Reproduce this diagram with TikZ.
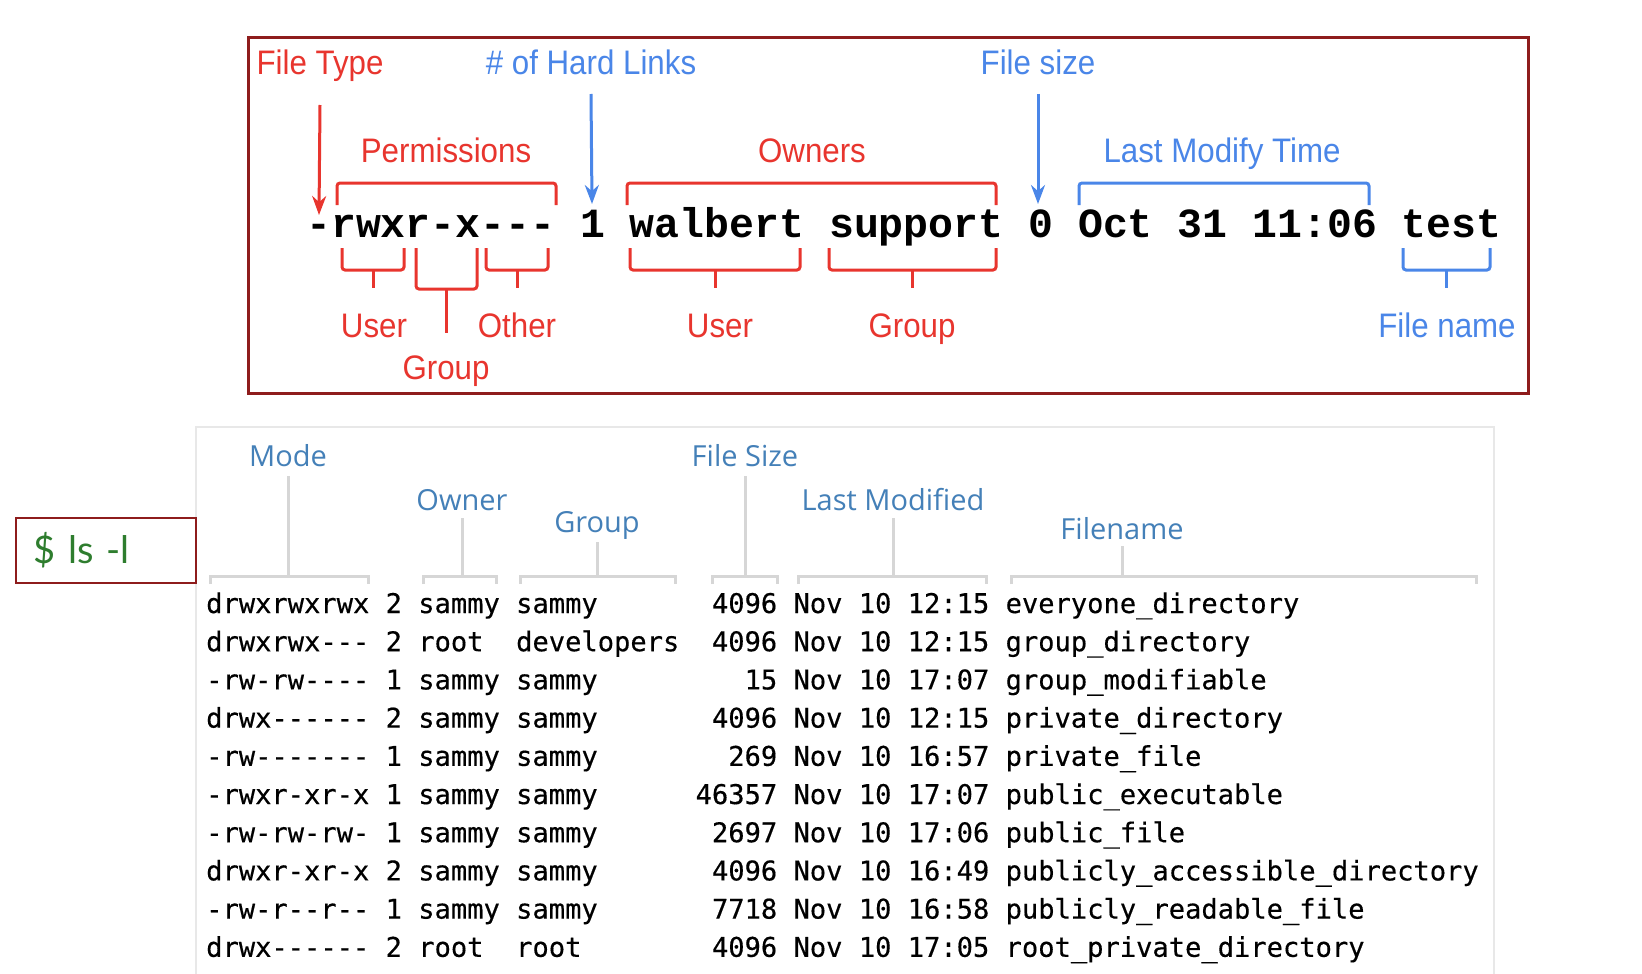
\documentclass[tikz,border=0pt]{standalone}
\usepackage{fontspec}
\setmainfont{Liberation Sans}
\newfontfamily\annfont{Liberation Sans}[FakeStretch=0.92]
\newfontfamily\hdrfont{Open Sans}
\newfontfamily\cmdfont{Liberation Mono}[Ligatures=TeXOff]
\newfontfamily\lsfont{DejaVu Sans Mono}[Ligatures=TeXOff, FakeBold=0.4]
\newfontfamily\promptfont{Lato}
\usepackage{xcolor}
\usetikzlibrary{arrows.meta, positioning}

\definecolor{annred}{HTML}{E8352E}
\definecolor{annblue}{HTML}{4A86E8}
\definecolor{boxred}{HTML}{8E1C1C}
\definecolor{hdrblue}{HTML}{4480B8}
\definecolor{guidegray}{HTML}{D6D6D6}
\definecolor{framegray}{HTML}{E8E8E8}
\definecolor{promptgreen}{HTML}{2E7D2E}

\begin{document}
\begin{tikzpicture}[
  x=1pt, y=-1pt,
  redlbl/.style  = {font=\annfont\fontsize{34}{40}\selectfont, text=annred, inner sep=0pt, anchor=base},
  bluelbl/.style = {redlbl, text=annblue},
  redbr/.style   = {draw=annred, line width=3pt, rounded corners=3pt},
  bluebr/.style  = {redbr, draw=annblue},
  redarr/.style  = {-{Stealth[length=19pt,width=14pt]}, draw=annred, line width=3pt},
  bluearr/.style = {redarr, draw=annblue},
  hdr/.style     = {font=\hdrfont\fontsize{29}{34}\selectfont, text=hdrblue, inner sep=0pt, anchor=base},
  guide/.style   = {draw=guidegray, line width=3pt},
  lsrow/.style   = {font=\lsfont\fontsize{27.1}{30}\selectfont, text=black, inner sep=0pt, anchor=base west}
]
\fill[white] (0,0) rectangle (1642,974);
\useasboundingbox (0,0) rectangle (1642,974);

% annotated listing
\draw[draw=boxred, line width=3pt] (248,38) rectangle (1528,393);
\node[font=\cmdfont\bfseries\fontsize{41.5}{46}\selectfont, inner sep=0pt, anchor=base west]
  (lsline) at (306,237) {-rwxr-x---~1~walbert~support~0~Oct~31~11:06~test};

\node[redlbl]  (ftype)  at (320,75)  {File Type};
\node[bluelbl] (hlinks) at (591,75)  {\# of Hard Links};
\node[bluelbl] (fsize)  at (1038,75) {File size};
\node[redlbl]  (perms)  at (446,162) {Permissions};
\node[redlbl]  (owners) at (812,162) {Owners};
\node[bluelbl] (lmtime) at (1222,162) {Last Modify Time};

\coordinate (typetip)  at (319,215);
\coordinate (linktip)  at (592,204);
\coordinate (sizetip)  at (1038,204);
\draw[redarr]  ([yshift=-30pt]ftype.base)  -- (typetip);
\draw[bluearr] ([yshift=-19pt]hlinks.base) -- (linktip);
\draw[bluearr] ([yshift=-19pt]fsize.base)  -- (sizetip);

% brackets over the fields
\draw[redbr]  (337,205) -- (337,183) -- (556,183) -- (556,205);
\draw[redbr]  (627,205) -- (627,183) -- (996,183) -- (996,205);
\draw[bluebr] (1079,205) -- (1079,183) -- (1369,183) -- (1369,205);

% braces under the fields
\draw[redbr] (342,248) -- (342,270) -- (404,270) -- (404,248);
\draw[redbr] (373,270) -- (373,288);
\draw[redbr] (416,248) -- (416,289) -- (477,289) -- (477,248);
\draw[redbr] (446.5,289) -- (446.5,333);
\draw[redbr] (486,248) -- (486,270) -- (548,270) -- (548,248);
\draw[redbr] (517,270) -- (517,288);
\draw[redbr] (630,248) -- (630,270) -- (800,270) -- (800,248);
\draw[redbr] (715,270) -- (715,288);
\draw[redbr] (829,248) -- (829,270) -- (996,270) -- (996,248);
\draw[redbr] (912.5,270) -- (912.5,288);
\draw[bluebr] (1403,248) -- (1403,270) -- (1490,270) -- (1490,248);
\draw[bluebr] (1446.5,270) -- (1446.5,288);

\node[redlbl]  (puser)  at (374,337) {User};
\node[redlbl]  (pgroup) at (446,379) {Group};
\node[redlbl]  (pother) at (517,337) {Other};
\node[redlbl]  (ouser)  at (720,337) {User};
\node[redlbl]  (ogroup) at (912,337) {Group};
\node[bluelbl] (fname)  at (1447,337) {File name};

% ls -l output
\draw[draw=framegray, line width=1.5pt] (196,990) -- (196,427) -- (1494,427) -- (1494,990);
\node[draw=boxred, line width=2.5pt, minimum width=180pt, minimum height=65pt,
      inner xsep=18pt, text width=144pt, align=left, text=promptgreen,
      font=\promptfont\fontsize{38}{44}\selectfont] (prompt) at (106,550.5) {\$ ls -l};

\node[hdr] (hmode)  at (288,466) {Mode};
\node[hdr] (howner) at (462,510) {Owner};
\node[hdr] (hgroup) at (597,532) {Group};
\node[hdr] (hsize)  at (745,466) {File Size};
\node[hdr] (hmod)   at (893,510) {Last Modified};
\node[hdr] (hname)  at (1122,539) {Filename};

\coordinate (bar) at (0,576);
\draw[guide] ([yshift=-10pt]hmode.base)  -- (hmode.base |- bar);
\draw[guide] ([yshift=-8pt]howner.base)  -- (howner.base |- bar);
\draw[guide] ([yshift=-10pt]hgroup.base) -- (hgroup.base |- bar);
\draw[guide] ([yshift=-10pt]hsize.base)  -- (hsize.base |- bar);
\draw[guide] ([yshift=-8pt]hmod.base)    -- (hmod.base |- bar);
\draw[guide] ([yshift=-7pt]hname.base)   -- (hname.base |- bar);

\draw[guide] (210,584) -- (210,576) -- (368,576) -- (368,584);
\draw[guide] (423,584) -- (423,576) -- (496,576) -- (496,584);
\draw[guide] (520,584) -- (520,576) -- (675,576) -- (675,584);
\draw[guide] (712,584) -- (712,576) -- (777,576) -- (777,584);
\draw[guide] (798,584) -- (798,576) -- (986,576) -- (986,584);
\draw[guide] (1011,584) -- (1011,576) -- (1476,576) -- (1476,584);

\foreach \txt [count=\i] in {
  drwxrwxrwx~2~sammy~sammy~~~~~~~4096~Nov~10~12:15~everyone\_directory,
  drwxrwx---~2~root~~developers~~4096~Nov~10~12:15~group\_directory,
  -rw-rw----~1~sammy~sammy~~~~~~~~~15~Nov~10~17:07~group\_modifiable,
  drwx------~2~sammy~sammy~~~~~~~4096~Nov~10~12:15~private\_directory,
  -rw-------~1~sammy~sammy~~~~~~~~269~Nov~10~16:57~private\_file,
  -rwxr-xr-x~1~sammy~sammy~~~~~~46357~Nov~10~17:07~public\_executable,
  -rw-rw-rw-~1~sammy~sammy~~~~~~~2697~Nov~10~17:06~public\_file,
  drwxr-xr-x~2~sammy~sammy~~~~~~~4096~Nov~10~16:49~publicly\_accessible\_directory,
  -rw-r--r--~1~sammy~sammy~~~~~~~7718~Nov~10~16:58~publicly\_readable\_file,
  drwx------~2~root~~root~~~~~~~~4096~Nov~10~17:05~root\_private\_directory}
  \node[lsrow] (r\i) at (206,{613+38.2*(\i-1)}) {\txt};

\end{tikzpicture}
\end{document}
